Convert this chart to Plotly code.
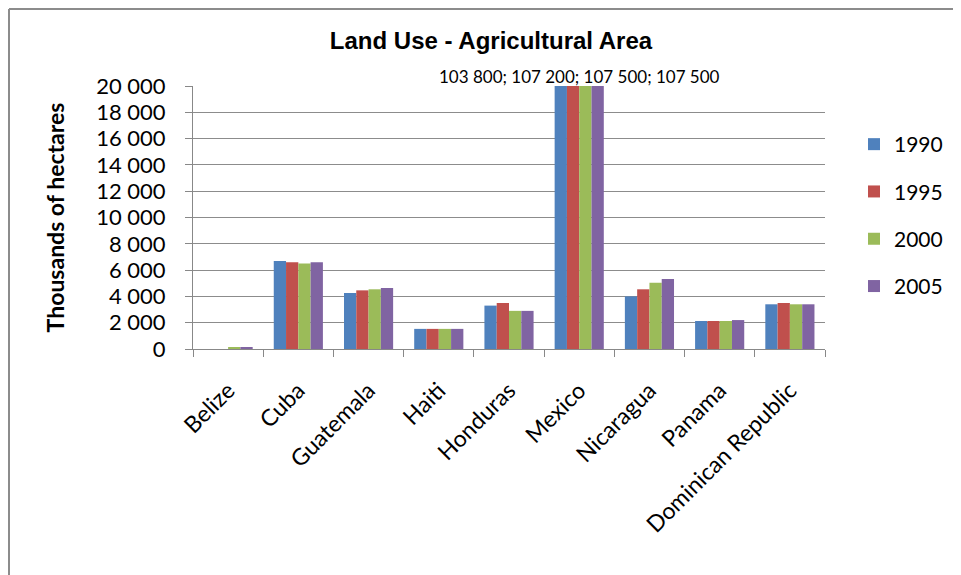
import plotly.graph_objects as go

categories = ["Belize", "Cuba", "Guatemala", "Haiti", "Honduras", "Mexico",
              "Nicaragua", "Panama", "Dominican Republic"]
years = ["1990", "1995", "2000", "2005"]
v1990 = [None, 6690, 4260, 1530, 3300, 103800, 4000, 2130, 3400]
v1995 = [None, 6600, 4460, 1530, 3500, 107200, 4540, 2130, 3500]
v2000 = [140, 6500, 4540, 1530, 2900, 107500, 5040, 2130, 3400]
v2005 = [150, 6600, 4640, 1530, 2900, 107500, 5320, 2200, 3400]
series = [v1990, v1995, v2000, v2005]
colors = ["#4F81BD", "#C0504D", "#9BBB59", "#8064A2"]
mexico_label = "103 800; 107 200; 107 500; 107 500"
y_max = 20000

fig = go.Figure()
for i, (yr, vals) in enumerate(zip(years, series)):
    fig.add_trace(go.Bar(
        x=categories, y=vals, name=yr,
        marker=dict(color=colors[i], line=dict(width=0)),
        legendgroup=yr,
    ))

# canvas pixel geometry (page body adds an 8px offset on screen)
W, H = 961, 575
L, R, T, B = 185, 144, 78, 234
pw, ph = W - L - R, H - T - B

def px_x(p):
    return (p - L) / pw

def px_y(p):
    return (H - B - p) / ph

fig.add_annotation(x="Mexico", y=y_max, text=mexico_label, showarrow=False,
                   yanchor="bottom", yshift=-3, font=dict(size=17, color="#000"))

frame = dict(type="line", xref="paper", yref="paper",
             line=dict(color="#8c8c8c", width=2))
fig.add_shape(**frame, x0=px_x(1), x1=px_x(961), y0=px_y(1), y1=px_y(1))
fig.add_shape(**frame, x0=px_x(1), x1=px_x(1), y0=px_y(1), y1=px_y(575))

fig.update_layout(
    width=W, height=H,
    margin=dict(l=L, r=R, t=T, b=B),
    paper_bgcolor="white", plot_bgcolor="white",
    font=dict(family="Lato, Noto Sans, sans-serif", color="#000"),
    separators=". ",
    barmode="group", bargap=0.3, bargroupgap=0,
    title=dict(text="<b>Land Use - Agricultural Area</b>", x=483 / W, xanchor="center",
               y=1 - 33 / H, yanchor="middle",
               font=dict(size=24, family="Liberation Sans, Arial, sans-serif")),
    legend=dict(x=px_x(846), y=px_y(116), xanchor="left", yanchor="top",
                font=dict(size=21), tracegroupgap=17, itemwidth=30),
    xaxis=dict(type="category", tickson="boundaries", ticks="outside", ticklen=7,
               tickcolor="#888", showline=True, linecolor="#888", linewidth=1,
               showgrid=False, tickangle=-45, tickfont=dict(size=23),
               ticklabelstandoff=18),
    yaxis=dict(range=[0, y_max], dtick=2000, tickformat=",d", showgrid=True,
               gridcolor="#8c8c8c", gridwidth=1, showline=True, linecolor="#888",
               ticks="outside", ticklen=7, tickcolor="#888", ticklabelstandoff=15,
               tickfont=dict(size=22), zeroline=False,
               title=dict(text="<b>Thousands of hectares</b>", font=dict(size=23),
                          standoff=25)),
)

fig.write_html("out.html")
